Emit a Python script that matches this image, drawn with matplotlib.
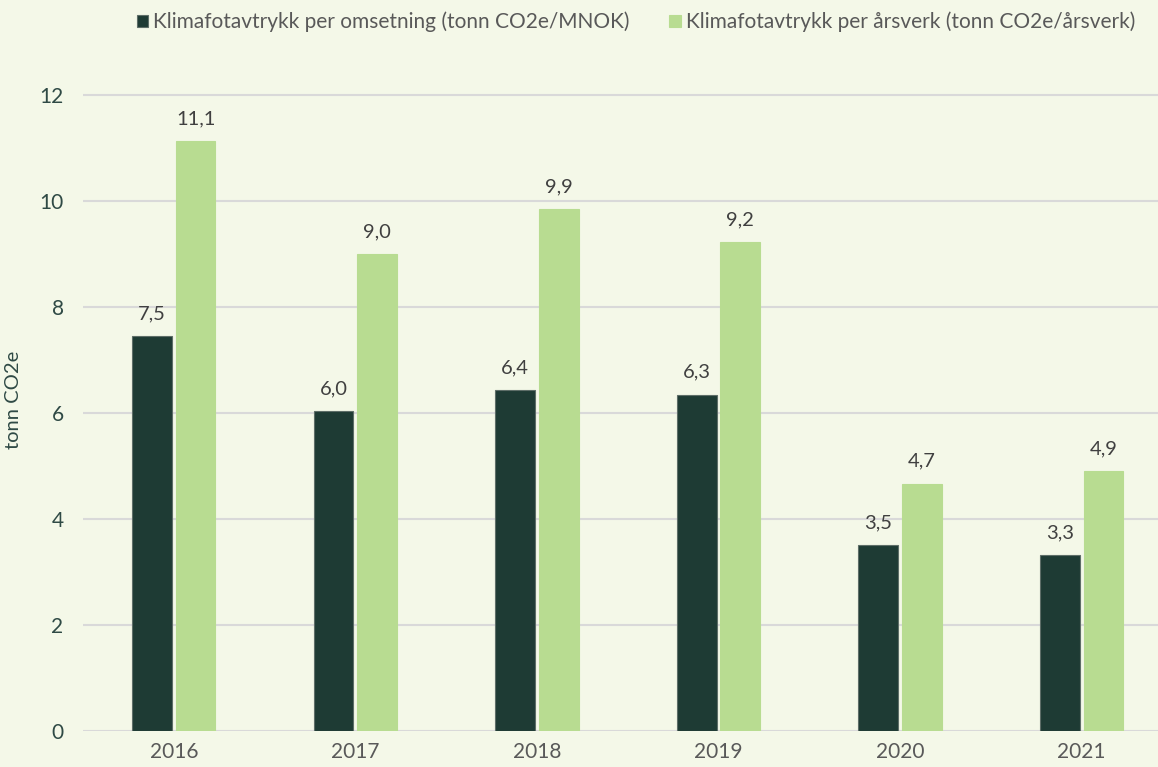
import numpy as np
import matplotlib.pyplot as plt

# ---------------------------------------------------------------------------
# Data
# ---------------------------------------------------------------------------
years = ['2016', '2017', '2018', '2019', '2020', '2021']
per_omsetning = [7.46, 6.04, 6.43, 6.35, 3.51, 3.32]
per_arsverk = [11.14, 9.00, 9.86, 9.23, 4.67, 4.91]
series_names = ['Klimafotavtrykk per omsetning (tonn CO2e/MNOK)',
                'Klimafotavtrykk per årsverk (tonn CO2e/årsverk)']

DARK = '#1E3B34'
LIGHT = '#B8DC91'
BG = '#F4F8E8'
GRID = '#D9D9D9'
TXT = '#404040'
AXTXT = '#2F4A45'
FS = 14.5

plt.rcParams['font.family'] = ['Lato', 'DejaVu Sans']

W, H = 1158, 767
fig = plt.figure(figsize=(W / 100, H / 100), dpi=100, facecolor=BG)
ax = fig.add_axes([83 / W, 36 / H, (W - 83) / W, 662 / H], facecolor=BG)

x = np.arange(len(years))
bw, off = 0.219, 0.12
b1 = ax.bar(x - off, per_omsetning, bw, color=DARK, edgecolor='#5E6E68',
            linewidth=0.8, label=series_names[0], zorder=3)
b2 = ax.bar(x + off, per_arsverk, bw, color=LIGHT, edgecolor=LIGHT,
            linewidth=0.8, label=series_names[1], zorder=3)

for bars, vals in ((b1, per_omsetning), (b2, per_arsverk)):
    for r, v in zip(bars, vals):
        ax.annotate(f'{v:.1f}'.replace('.', ','),
                    (r.get_x() + r.get_width() / 2, r.get_height()),
                    xytext=(0, 10), textcoords='offset points',
                    ha='center', va='bottom', fontsize=FS, color=TXT)

ax.set_xlim(-0.5, 5.42)
ax.set_ylim(0, 12.5)
ax.set_yticks(range(0, 13, 2))
ax.set_xticks(x)
ax.set_xticklabels(years)
ax.grid(axis='y', color=GRID, linewidth=1.5, zorder=0)
ax.set_axisbelow(True)
for sp in ax.spines.values():
    sp.set_visible(False)
ax.tick_params(axis='both', length=0, labelsize=15)
ax.tick_params(axis='y', pad=14, labelcolor=AXTXT)
ax.tick_params(axis='x', pad=8, labelcolor='#595959')
ax.set_ylabel('tonn CO2e', fontsize=FS, color=AXTXT)
ax.yaxis.set_label_coords(-61 / (W - 83), 0.5)

fig.legend(handles=[b1, b2], loc='center', bbox_to_anchor=(636 / W, 1 - 22 / H),
           ncol=2, frameon=False, fontsize=15, handlelength=0.55,
           handleheight=0.55, handletextpad=0.25, columnspacing=1.9,
           labelcolor='#595959')

fig.savefig('out.png', dpi=100, facecolor=BG)
